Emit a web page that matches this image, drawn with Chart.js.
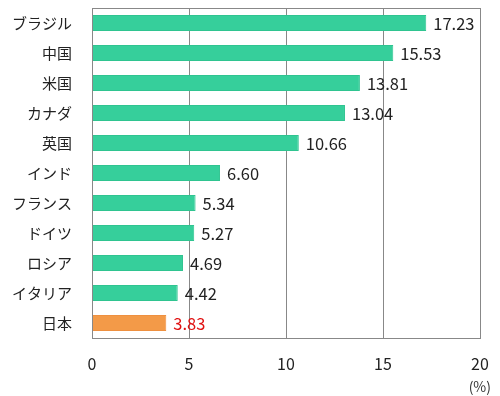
<!DOCTYPE html>
<html>
<head>
<meta charset="utf-8">
<script src="https://cdn.jsdelivr.net/npm/chart.js@4"></script>
<style>
  html, body { margin: 0; padding: 0; background: #fff; }
  #wrap { width: 500px; height: 396px; }
</style>
</head>
<body>
<div id="wrap"><canvas id="c" width="500" height="396"></canvas></div>
<script>
const countries = ["ブラジル", "中国", "米国", "カナダ", "英国", "インド", "フランス", "ドイツ", "ロシア", "イタリア", "日本"];
const shares = [17.23, 15.53, 13.81, 13.04, 10.66, 6.60, 5.34, 5.27, 4.69, 4.42, 3.83];
const xTicks = [0, 5, 10, 15, 20];

const FONT = "'Noto Sans CJK JP', 'Noto Sans', sans-serif";
const GREEN = "#36cf9b";
const ORANGE = "#f39a48";

const barColors = countries.map((c) => (c === "日本" ? ORANGE : GREEN));
const borderColors = countries.map((c) => (c === "日本" ? "#ee9040" : "#2fc490"));

// value labels to the right of each bar, plus the unit under the axis
const valueLabels = {
  id: "valueLabels",
  afterDatasetsDraw(chart) {
    const { ctx } = chart;
    const meta = chart.getDatasetMeta(0);
    ctx.save();
    ctx.font = "16.5px " + FONT;
    ctx.textBaseline = "middle";
    ctx.textAlign = "left";
    meta.data.forEach((bar, i) => {
      ctx.fillStyle = countries[i] === "日本" ? "#e01010" : "#222";
      ctx.fillText(shares[i].toFixed(2), bar.x + 7, bar.y + 1);
    });
    const xs = chart.scales.x;
    ctx.fillStyle = "#333";
    ctx.font = "14px " + FONT;
    ctx.textAlign = "right";
    ctx.fillText("(%)", xs.getPixelForValue(20) + 11, 387);
    ctx.restore();
  },
};

new Chart(document.getElementById("c"), {
  type: "bar",
  data: {
    labels: countries,
    datasets: [
      {
        data: shares,
        backgroundColor: barColors,
        borderColor: borderColors,
        borderWidth: 1,
        barPercentage: 0.53,
        categoryPercentage: 1,
      },
    ],
  },
  options: {
    indexAxis: "y",
    responsive: false,
    animation: false,
    layout: { padding: { top: 8, right: 20, bottom: 0, left: 0 } },
    plugins: {
      legend: { display: false },
      tooltip: { enabled: false },
    },
    scales: {
      x: {
        min: 0,
        max: 20,
        afterBuildTicks: (s) => { s.ticks = xTicks.map((v) => ({ value: v })); },
        afterFit: (s) => { s.height = 58; s.paddingLeft = 0; s.paddingRight = 0; },
        grid: { color: "#888", lineWidth: 1, drawTicks: false },
        border: { color: "#888", width: 1 },
        ticks: { color: "#222", padding: 16, font: { family: FONT, size: 16 } },
      },
      y: {
        afterFit: (s) => { s.width = 92; s.paddingTop = 0; s.paddingBottom = 0; },
        grid: { display: false, drawTicks: false },
        border: { color: "#888", width: 1 },
        ticks: { color: "#222", padding: 20, font: { family: FONT, size: 15 } },
      },
    },
  },
  plugins: [
    valueLabels,
    {
      id: "frame",
      afterDraw(chart) {
        const { ctx, chartArea: a } = chart;
        ctx.save();
        ctx.strokeStyle = "#888";
        ctx.lineWidth = 1;
        ctx.strokeRect(Math.round(a.left) + 0.5, Math.round(a.top) + 0.5, Math.round(a.right - a.left), Math.round(a.bottom - a.top));
        ctx.restore();
      },
    },
  ],
});
</script>
</body>
</html>
